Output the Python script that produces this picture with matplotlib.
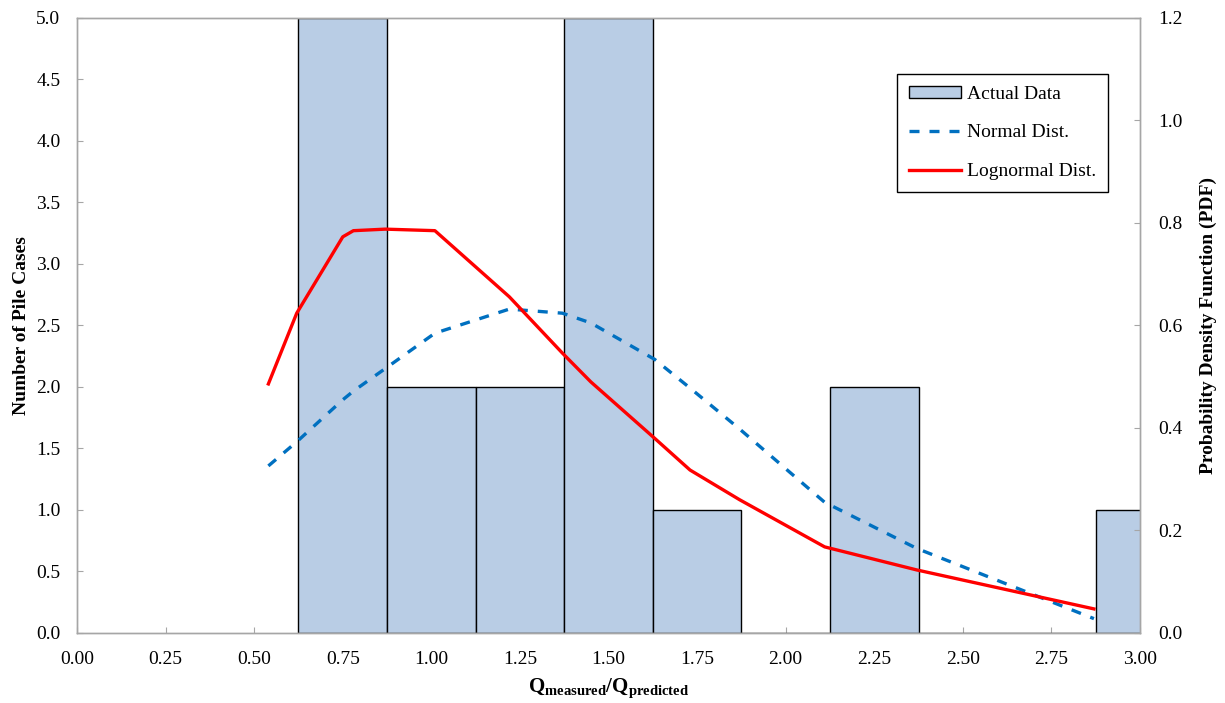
import matplotlib.pyplot as plt
import numpy as np

plt.rcParams['font.family'] = ['Liberation Serif', 'DejaVu Serif']
plt.rcParams['mathtext.fontset'] = 'custom'
plt.rcParams['mathtext.rm'] = 'Liberation Serif'
plt.rcParams['mathtext.bf'] = 'Liberation Serif:bold'

# histogram of the measured/predicted ratio
bin_centers = [0.75, 1.00, 1.25, 1.50, 1.75, 2.00, 2.25, 2.50, 2.75, 3.00]
counts = [5, 2, 2, 5, 1, 0, 2, 0, 0, 1]

# fitted distributions evaluated at the data points
ratio = [0.54, 0.62, 0.75, 0.78, 0.87, 1.01, 1.22, 1.37, 1.45, 1.63, 1.73, 1.87, 2.11, 2.37, 2.87]
pdf_normal = [0.326, 0.373, 0.455, 0.472, 0.516, 0.585, 0.632, 0.624, 0.605, 0.534,
              0.478, 0.398, 0.255, 0.165, 0.028]
pdf_lognormal = [0.486, 0.624, 0.773, 0.785, 0.788, 0.785, 0.656, 0.546, 0.490, 0.380,
                 0.318, 0.260, 0.168, 0.123, 0.047]

fig = plt.figure(figsize=(12.25, 7.03), dpi=100)
ax = fig.add_axes([0.0629, 0.0996, 0.8677, 0.8748])
ax2 = ax.twinx()

ax.bar(bin_centers, counts, width=0.25, color='#B9CDE5', edgecolor='black',
       linewidth=1.0, label='Actual Data', zorder=2)
ax2.plot(ratio, pdf_normal, color='#0070C0', linestyle=(0, (3, 3)), linewidth=2.4,
         label='Normal Dist.')
ax2.plot(ratio, pdf_lognormal, color='#FF0000', linewidth=2.4, label='Lognormal Dist.')

ax.set_xlim(0, 3)
ax.set_ylim(0, 5)
ax2.set_ylim(0, 1.2)
ax.set_xticks(np.arange(0, 3.01, 0.25))
ax.set_xticklabels([f'{v:.2f}' for v in np.arange(0, 3.01, 0.25)])
ax.set_yticks(np.arange(0, 5.01, 0.5))
ax.set_yticklabels([f'{v:.1f}' for v in np.arange(0, 5.01, 0.5)])
ax2.set_yticks(np.arange(0, 1.21, 0.2))
ax2.set_yticklabels([f'{v:.1f}' for v in np.arange(0, 1.21, 0.2)])

for a in (ax, ax2):
    for s in a.spines.values():
        s.set_color('#A6A6A6')
        s.set_linewidth(1.0)
    a.tick_params(direction='in', length=4, color='#A6A6A6', labelsize=14,
                  labelcolor='black')
ax.tick_params(axis='x', pad=13)
ax.tick_params(axis='y', pad=12)
ax2.tick_params(axis='y', pad=13)

ax.set_xlabel(r'$\mathbf{Q_{measured}/Q_{predicted}}$', fontsize=15, labelpad=6)
ax.set_ylabel('Number of Pile Cases', fontsize=14, fontweight='bold', labelpad=4)
ax2.set_ylabel('Probability Density Function (PDF)', fontsize=14, fontweight='bold',
               labelpad=12)

h1, l1 = ax.get_legend_handles_labels()
h2, l2 = ax2.get_legend_handles_labels()
leg = ax2.legend(h1 + h2, l1 + l2, loc='upper left', bbox_to_anchor=(0.7715, 0.909),
                 borderaxespad=0, fontsize=14, frameon=True, fancybox=False,
                 edgecolor='black', framealpha=1, handlelength=2.7, handleheight=0.6,
                 labelspacing=1.12, borderpad=0.6, handletextpad=0.3)
leg.get_frame().set_linewidth(1.0)

fig.savefig('out.png', dpi=100)
